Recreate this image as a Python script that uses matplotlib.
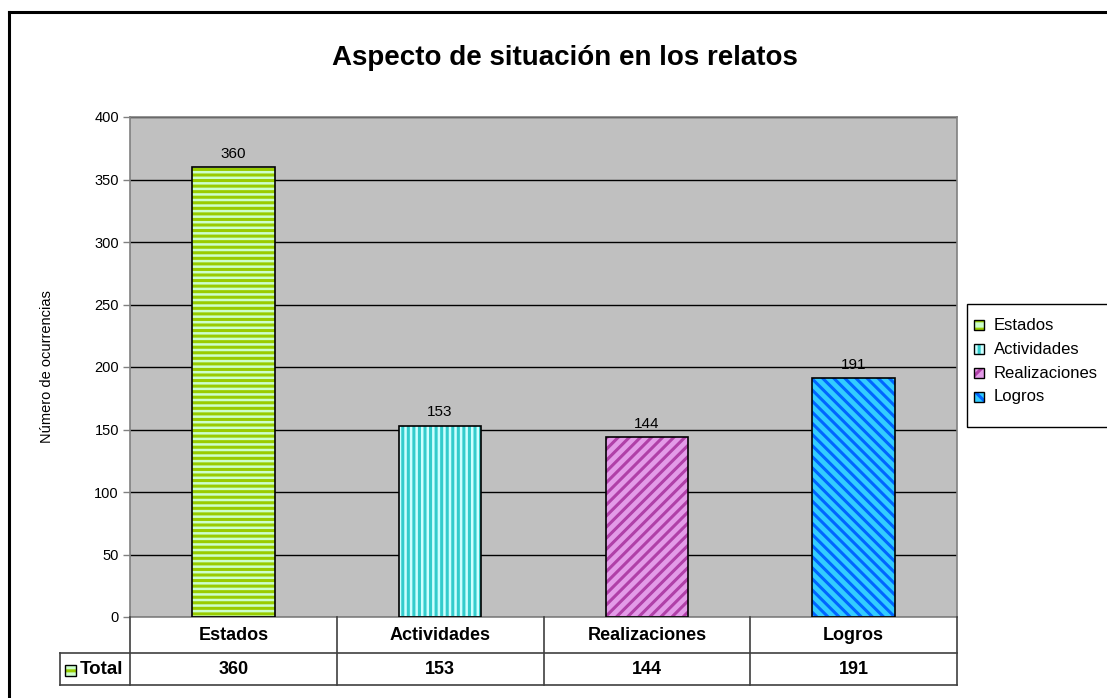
import matplotlib.pyplot as plt
from matplotlib.patches import Rectangle
from matplotlib.lines import Line2D

plt.rcParams['font.family'] = ['Liberation Sans', 'DejaVu Sans']
plt.rcParams['hatch.linewidth'] = 2.2

categorias = ['Estados', 'Actividades', 'Realizaciones', 'Logros']
valores = [360, 153, 144, 191]
fondo = ['#CCFFCC', '#CCFFFF', '#E39BE8', '#33CCFF']
rayas = ['#99CC00', '#33CCCC', '#B040A8', '#0066FF']
tramas = ['---', '|||', '///', '\\\\\\']

W, H = 1107, 698
fig = plt.figure(figsize=(W / 100, H / 100), dpi=100)

# marco exterior
fig.add_artist(Line2D([9 / W, 9 / W], [0, 1 - 12 / H], color='black', lw=2.2))
fig.add_artist(Line2D([9 / W, 1], [1 - 12 / H, 1 - 12 / H], color='black', lw=2.2))

x0, x1, ytop, ybot = 130, 957, 117, 617
ax = fig.add_axes([x0 / W, (H - ybot) / H, (x1 - x0) / W, (ybot - ytop) / H])
ax.set_facecolor('#C0C0C0')
for s in ax.spines.values():
    s.set_color('#808080')
    s.set_linewidth(1.2)

pos = list(range(len(categorias)))
for i in pos:
    ax.bar(i, valores[i], width=0.4, color=fondo[i], edgecolor=rayas[i], hatch=tramas[i], linewidth=0, zorder=2)
ax.bar(pos, valores, width=0.4, fill=False, edgecolor='black', linewidth=1.2, zorder=3)
for i, v in zip(pos, valores):
    ax.text(i, v + 5, str(v), ha='center', va='bottom', fontsize=11)

ax.set_xlim(-0.5, len(categorias) - 0.5)
ax.set_ylim(0, 400)
ax.set_yticks(range(0, 401, 50))
ax.yaxis.grid(True, color='black', linewidth=1)
ax.set_axisbelow(True)
ax.set_xticks([])
ax.tick_params(axis='y', labelsize=10.5, length=5, width=1, color='#808080', pad=3)
ax.set_ylabel('Número de ocurrencias', fontsize=10.5)
ax.yaxis.set_label_coords(-(x0 - 54) / (x1 - x0), 0.5)

fig.text(565 / W, 1 - 58 / H, 'Aspecto de situación en los relatos', ha='center', va='center',
         fontsize=20, fontweight='bold')

# tabla de datos
ymid, yfin = 653, 685
def fx(px):
    return px / W
def fy(py):
    return 1 - py / H
colw = (x1 - x0) / len(categorias)
lc = '#404040'
for k in range(len(categorias) + 1):
    xx = x0 + k * colw
    fig.add_artist(Line2D([fx(xx), fx(xx)], [fy(ybot), fy(yfin)], color=lc, lw=1.2))
fig.add_artist(Line2D([fx(60), fx(x1)], [fy(ymid), fy(ymid)], color=lc, lw=1.2))
fig.add_artist(Line2D([fx(60), fx(x1)], [fy(yfin), fy(yfin)], color=lc, lw=1.2))
fig.add_artist(Line2D([fx(60), fx(60)], [fy(ymid), fy(yfin)], color=lc, lw=1.2))
for k, (c, v) in enumerate(zip(categorias, valores)):
    xc = x0 + (k + 0.5) * colw
    fig.text(fx(xc), fy((ybot + ymid) / 2), c, ha='center', va='center', fontsize=13, fontweight='bold')
    fig.text(fx(xc), fy((ymid + yfin) / 2), str(v), ha='center', va='center', fontsize=13, fontweight='bold')
fig.add_artist(Rectangle((fx(65), fy(676)), 11 / W, 11 / H, facecolor=fondo[0], edgecolor=rayas[0],
                         hatch='--', linewidth=0))
fig.add_artist(Rectangle((fx(65), fy(676)), 11 / W, 11 / H, fill=False, edgecolor='black', linewidth=1))
fig.text(fx(80), fy((ymid + yfin) / 2), 'Total', ha='left', va='center', fontsize=13.5, fontweight='bold')

# leyenda
fig.add_artist(Rectangle((fx(967), fy(427)), (1120 - 967) / W, (427 - 304) / H, fill=False,
                         edgecolor='black', linewidth=1))
for k, c in enumerate(categorias):
    yc = 325 + k * 24
    fig.add_artist(Rectangle((fx(974), fy(yc + 5)), 10 / W, 10 / H, facecolor=fondo[k],
                             edgecolor=rayas[k], hatch=tramas[k][:2], linewidth=0))
    fig.add_artist(Rectangle((fx(974), fy(yc + 5)), 10 / W, 10 / H, fill=False,
                             edgecolor='black', linewidth=1))
    fig.text(fx(994), fy(yc), c, ha='left', va='center', fontsize=12)

fig.savefig('out.png', dpi=100)
